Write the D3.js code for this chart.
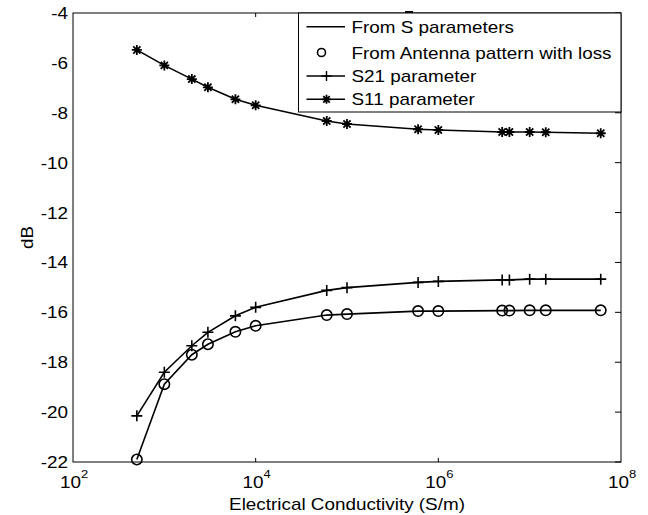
<!DOCTYPE html>
<html>
<head>
<meta charset="utf-8">
<script src="https://cdn.jsdelivr.net/npm/d3@7"></script>
<style>
  body { margin: 0; background: #fff; }
  text { font-family: Arial, "Liberation Sans", sans-serif; fill: #000; }
</style>
</head>
<body>
<script>
// conductivity samples (S/m)
const sigma = [500, 1000, 2000, 3000, 6000, 1e4, 6e4, 1e5, 6e5, 1e6, 5e6, 6e6, 1e7, 1.5e7, 6e7];
const s11 = [-5.48, -6.10, -6.65, -6.98, -7.46, -7.70, -8.33, -8.45, -8.66, -8.69, -8.77, -8.77, -8.77, -8.78, -8.82];
const s21 = [-20.15, -18.40, -17.34, -16.80, -16.14, -15.80, -15.12, -15.01, -14.80, -14.76, -14.70, -14.70, -14.67, -14.67, -14.67];
const antenna = [-21.90, -18.88, -17.70, -17.28, -16.78, -16.54, -16.11, -16.07, -15.95, -15.95, -15.93, -15.93, -15.92, -15.92, -15.92];

const xTicks = [1e2, 1e4, 1e6, 1e8];
const yTicks = [-22, -20, -18, -16, -14, -12, -10, -8, -6, -4];
const legendItems = ["From S parameters", "From Antenna pattern with loss", "S21 parameter", "S11 parameter"];

const W = 648, H = 515;
const plot = { left: 73, right: 621, top: 13, bottom: 462 };
const sx = 1.18; // picture is a bit stretched sideways

const svg = d3.select('body').append('svg')
  .attr('width', W)
  .attr('height', H);

const x = d3.scaleLog().domain([1e2, 1e8]).range([plot.left, plot.right]);
const y = d3.scaleLinear().domain([-22, -4]).range([plot.bottom, plot.top]);

function stext(g, px, py, str, size, anchor) {
  return g.append('text')
    .attr('transform', `translate(${px},${py}) scale(${sx},1)`)
    .attr('text-anchor', anchor || 'start')
    .style('font-size', size + 'px')
    .text(str);
}

// axes box
const ax = svg.append('g');
ax.append('rect')
  .attr('x', plot.left).attr('y', plot.top)
  .attr('width', plot.right - plot.left).attr('height', plot.bottom - plot.top)
  .attr('fill', 'none').attr('stroke', '#000').attr('stroke-width', 1);

// inward ticks
ax.selectAll('line.xb').data(xTicks.slice(1, -1)).enter().append('line')
  .attr('x1', d => x(d)).attr('x2', d => x(d))
  .attr('y1', plot.bottom).attr('y2', plot.bottom - 4)
  .attr('stroke', '#000');
ax.selectAll('line.xt').data(xTicks.slice(1, -1)).enter().append('line')
  .attr('x1', d => x(d)).attr('x2', d => x(d))
  .attr('y1', plot.top).attr('y2', plot.top + 4)
  .attr('stroke', '#000');
ax.selectAll('line.yr').data(yTicks).enter().append('line')
  .attr('x1', plot.right).attr('x2', plot.right - 6)
  .attr('y1', d => y(d)).attr('y2', d => y(d))
  .attr('stroke', '#000');

// y tick labels
yTicks.forEach(v => {
  stext(ax, 68, y(v) + 6, String(v).replace('-', '-'), 16, 'end');
});

// x tick labels 10^n
xTicks.forEach(v => {
  const p = Math.round(Math.log10(v));
  const t = ax.append('text')
    .attr('transform', `translate(${x(v) + 1},488) scale(${sx},1)`)
    .attr('text-anchor', 'middle')
    .style('font-size', '16px');
  t.append('tspan').text('10');
  t.append('tspan').attr('dy', -10).style('font-size', '11px').text(p);
});

// axis titles
stext(ax, (plot.left + plot.right) / 2, 510, 'Electrical Conductivity (S/m)', 16, 'middle');
ax.append('text')
  .attr('transform', `translate(33,${(plot.top + plot.bottom) / 2}) rotate(-90) scale(${sx},1)`)
  .attr('text-anchor', 'middle')
  .style('font-size', '16px')
  .text('dB');

// data
const line = d3.line().x(d => x(d[0])).y(d => y(d[1]));
const series = [s21, antenna, s11].map(vals => sigma.map((s, i) => [s, vals[i]]));

const g = svg.append('g');
series.forEach(pts => {
  g.append('path')
    .attr('d', line(pts))
    .attr('fill', 'none')
    .attr('stroke', '#000')
    .attr('stroke-width', 1.6);
});

function plusPath(r) {
  return `M${-r},0H${r}M0,${-r}V${r}`;
}
function starPath(r) {
  const k = r * 0.72;
  return `M${-r},0H${r}M0,${-r}V${r}M${-k},${-k}L${k},${k}M${-k},${k}L${k},${-k}`;
}

g.selectAll('path.plus').data(series[0]).enter().append('path')
  .attr('class', 'plus')
  .attr('transform', d => `translate(${x(d[0])},${y(d[1])})`)
  .attr('d', plusPath(5.5))
  .attr('stroke', '#000').attr('stroke-width', 1.6);

g.selectAll('circle.ant').data(series[1]).enter().append('circle')
  .attr('class', 'ant')
  .attr('cx', d => x(d[0])).attr('cy', d => y(d[1]))
  .attr('r', 5.2)
  .attr('fill', 'none')
  .attr('stroke', '#000').attr('stroke-width', 1.6);

g.selectAll('path.star').data(series[2]).enter().append('path')
  .attr('class', 'star')
  .attr('transform', d => `translate(${x(d[0])},${y(d[1])})`)
  .attr('d', starPath(5))
  .attr('stroke', '#000').attr('stroke-width', 1.8);

// legend
const leg = svg.append('g');
leg.append('rect')
  .attr('x', 298.5).attr('y', plot.top)
  .attr('width', plot.right - 298.5).attr('height', 112 - plot.top)
  .attr('fill', '#fff').attr('stroke', '#000').attr('stroke-width', 1);
leg.append('line')
  .attr('x1', 405).attr('x2', 413).attr('y1', 12).attr('y2', 12)
  .attr('stroke', '#000').attr('stroke-width', 2);

const rowY = [26.7, 52.5, 76, 99.3];
legendItems.forEach((name, i) => {
  const cy = rowY[i];
  if (i !== 1) {
    leg.append('line')
      .attr('x1', 306.5).attr('x2', 345)
      .attr('y1', cy).attr('y2', cy)
      .attr('stroke', '#000').attr('stroke-width', 1.6);
  }
  if (i === 1) {
    leg.append('circle').attr('cx', 321.5).attr('cy', cy).attr('r', 4)
      .attr('fill', 'none').attr('stroke', '#000').attr('stroke-width', 1.6);
  } else if (i === 2) {
    leg.append('path').attr('transform', `translate(326.5,${cy})`)
      .attr('d', plusPath(5)).attr('stroke', '#000').attr('stroke-width', 1.4);
  } else if (i === 3) {
    leg.append('path').attr('transform', `translate(326.5,${cy})`)
      .attr('d', starPath(4.5)).attr('stroke', '#000').attr('stroke-width', 1.8);
  }
  stext(leg, 351.5, cy + 6, name, 16, 'start');
});
</script>
</body>
</html>
